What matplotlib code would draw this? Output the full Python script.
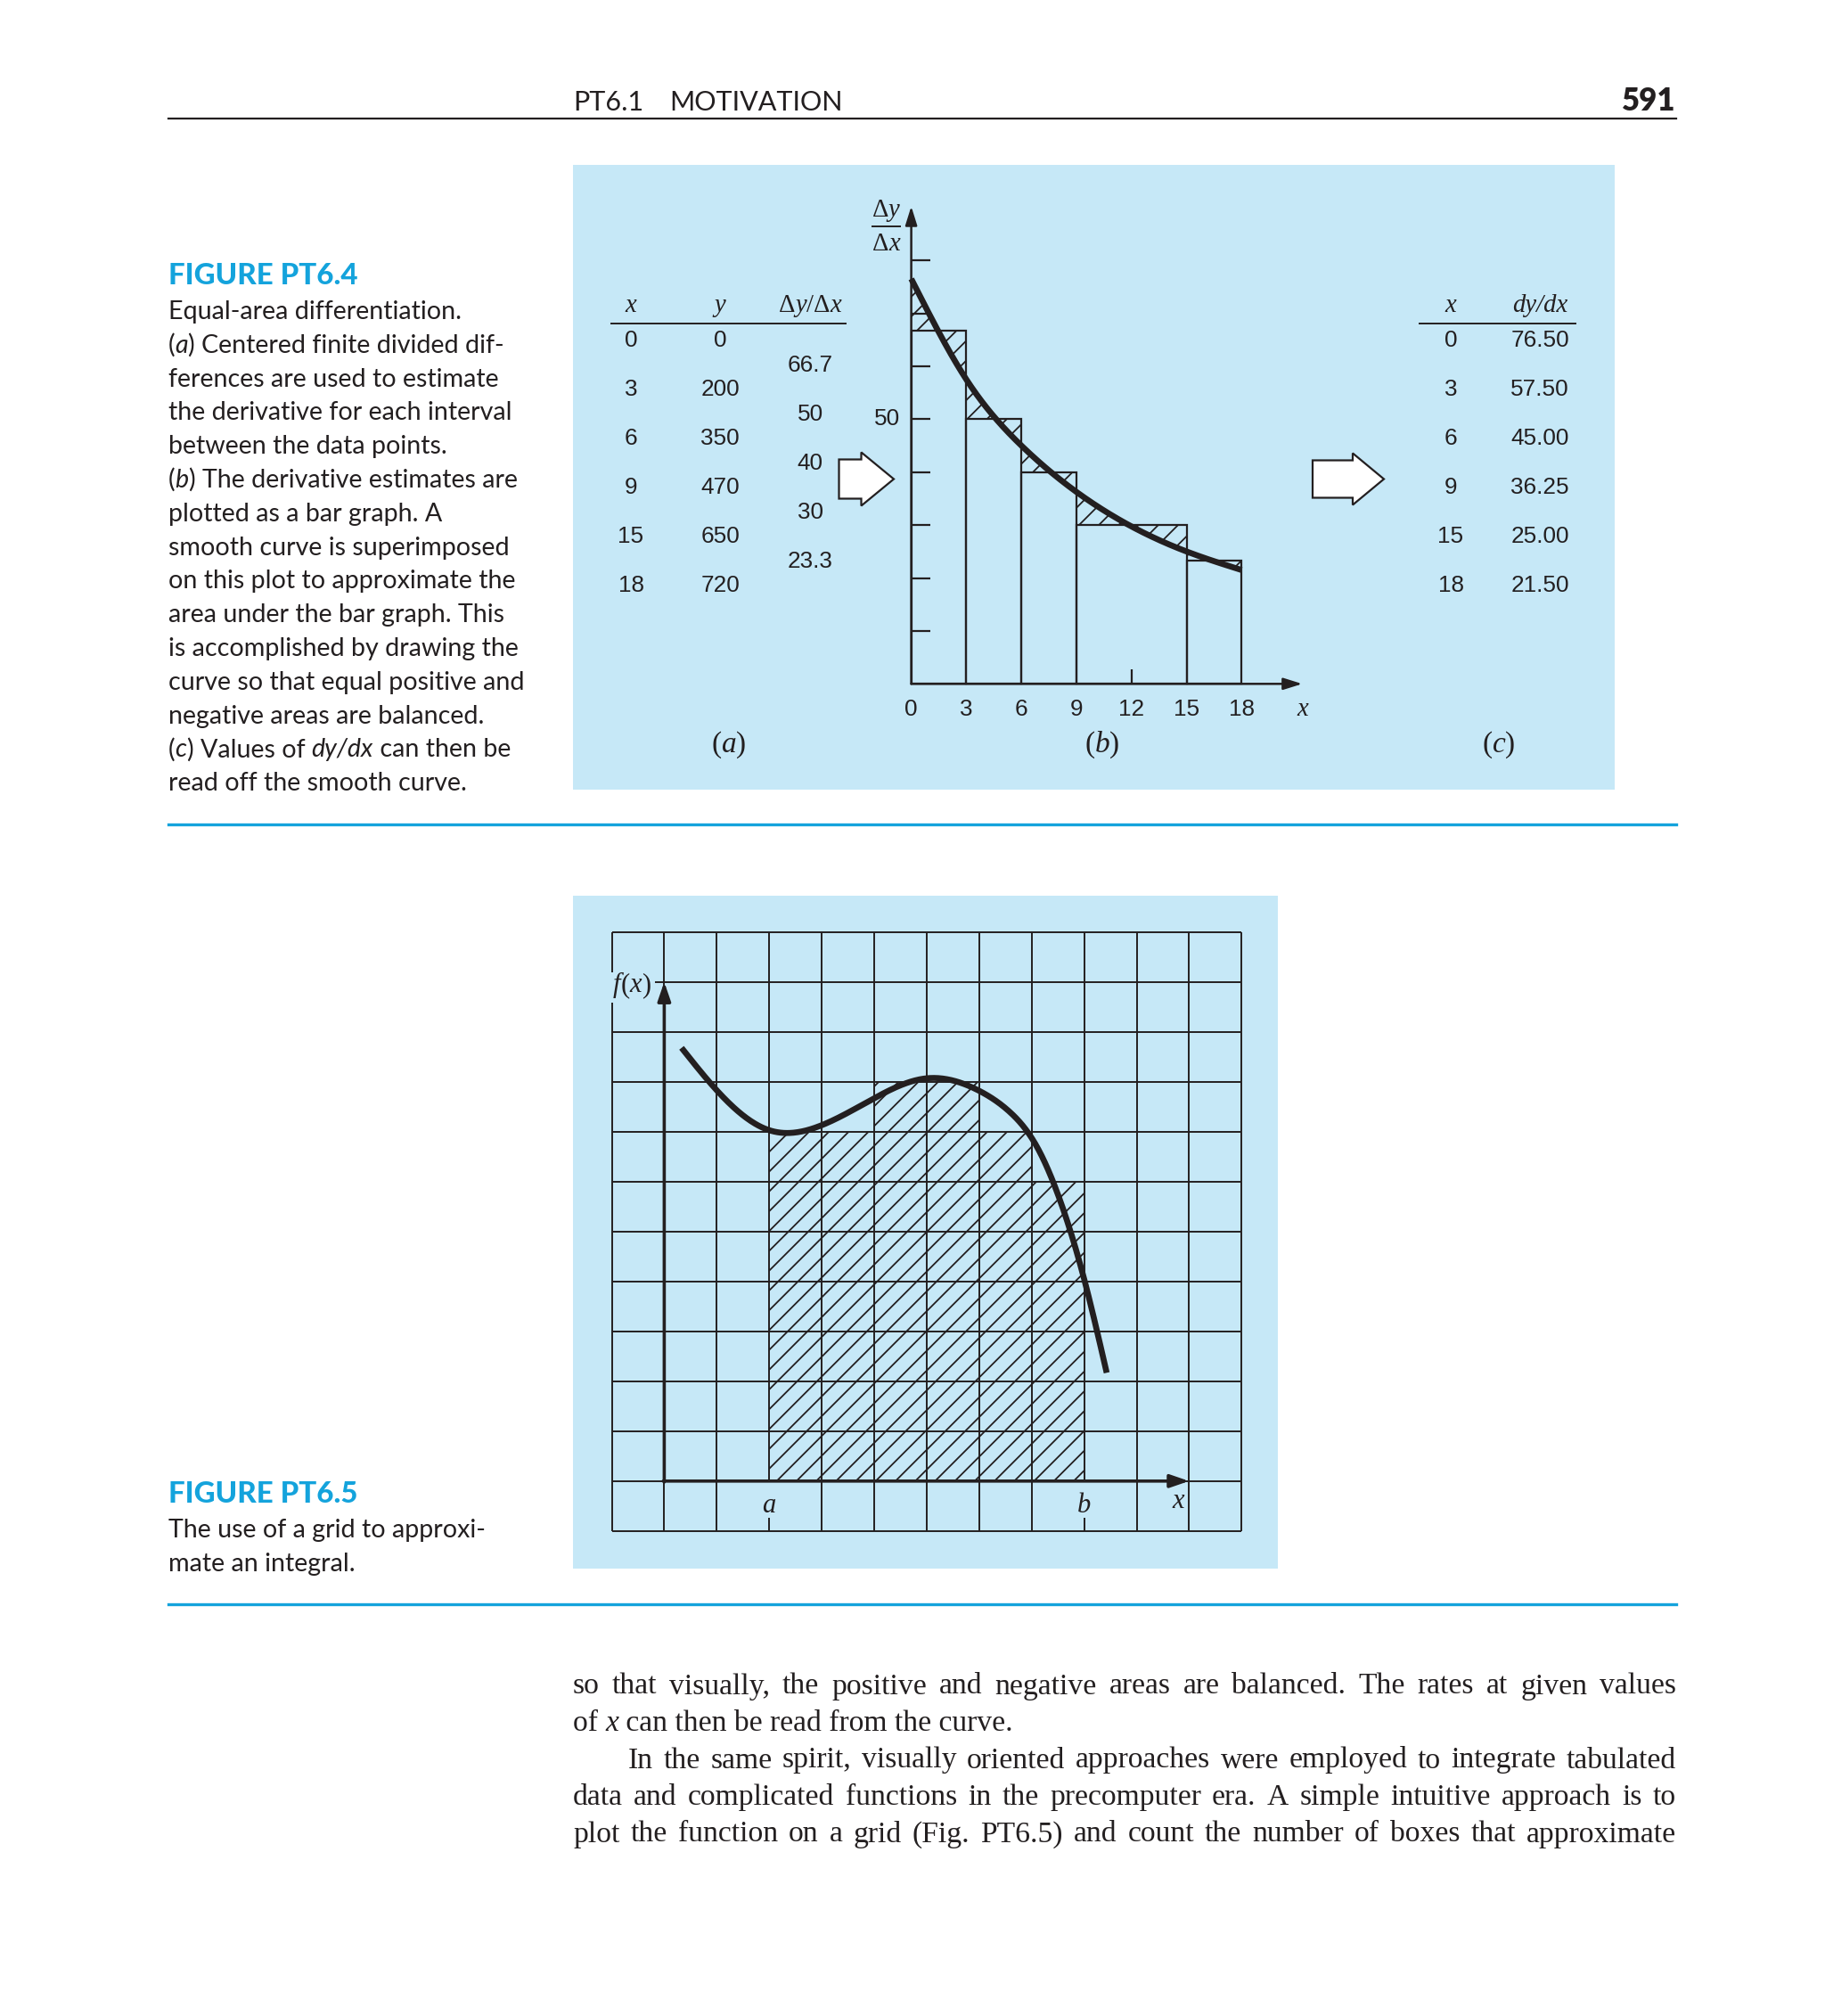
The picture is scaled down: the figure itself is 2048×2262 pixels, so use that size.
import numpy as np
import matplotlib
matplotlib.use('Agg')
import matplotlib.pyplot as plt
from matplotlib.patches import Rectangle, Polygon

W, H, DPI = 2048, 2262, 200

INK = '#231f20'
CYAN = '#14a3dc'
PANEL = '#c6e8f7'
FUT = 'Lato'
SANS = 'Liberation Sans'
SERIF = 'Liberation Serif'

# ---- data: Fig PT6.4 ----
x_tab = [0, 3, 6, 9, 15, 18]
y_tab = [0, 200, 350, 470, 650, 720]
fd_vals = [66.7, 50, 40, 30, 23.3]          # centered finite differences, one per interval
fd_labels = ['66.7', '50', '40', '30', '23.3']
dydx_vals = [76.50, 57.50, 45.00, 36.25, 25.00, 21.50]
dydx_labels = ['76.50', '57.50', '45.00', '36.25', '25.00', '21.50']
yticks_b = [10, 20, 30, 40, 50, 60, 70, 80]
xticks_b = [0, 3, 6, 9, 12, 15, 18]

# ---- data: Fig PT6.5 (grid units) ----
n_grid = 12
box_cols = [3, 4, 5, 6, 7, 8]
box_counts = [7, 7, 8, 8, 7, 6]
fx_x = [1.33, 2.0, 3.0, 4.0, 5.0, 6.0, 7.0, 7.6, 8.1, 8.55, 9.0, 9.43]
fx_y = [9.68, 8.83, 8.03, 8.13, 8.67, 9.07, 8.82, 8.38, 7.7, 6.6, 5.05, 3.17]

caption_a = [
    [('Equal-area differentiation.', {})],
    [('(', {}), ('a', {'style': 'italic'}), (') Centered finite divided dif-', {})],
    [('ferences are used to estimate', {})],
    [('the derivative for each interval', {})],
    [('between the data points.', {})],
    [('(', {}), ('b', {'style': 'italic'}), (') The derivative estimates are', {})],
    [('plotted as a bar graph. A', {})],
    [('smooth curve is superimposed', {})],
    [('on this plot to approximate the', {})],
    [('area under the bar graph. This', {})],
    [('is accomplished by drawing the', {})],
    [('curve so that equal positive and', {})],
    [('negative areas are balanced.', {})],
    [('(', {}), ('c', {'style': 'italic'}), (') Values of ', {}), ('dy/dx', {'style': 'italic'}),
     (' can then be', {})],
    [('read off the smooth curve.', {})],
]
caption_b = ['The use of a grid to approxi-', 'mate an integral.']
body = [
    'so that visually, the positive and negative areas are balanced. The rates at given values',
    None,
    'In the same spirit, visually oriented approaches were employed to integrate tabulated',
    'data and complicated functions in the precomputer era. A simple intuitive approach is to',
    'plot the function on a grid (Fig. PT6.5) and count the number of boxes that approximate',
]


def spline(xk, yk, xs):
    xk = np.asarray(xk, float)
    yk = np.asarray(yk, float)
    n = len(xk)
    h = np.diff(xk)
    A = np.zeros((n, n))
    r = np.zeros(n)
    A[0, 0] = A[-1, -1] = 1
    for i in range(1, n - 1):
        A[i, i - 1], A[i, i], A[i, i + 1] = h[i - 1], 2 * (h[i - 1] + h[i]), h[i]
        r[i] = 3 * ((yk[i + 1] - yk[i]) / h[i] - (yk[i] - yk[i - 1]) / h[i - 1])
    c = np.linalg.solve(A, r)
    b = (yk[1:] - yk[:-1]) / h - h * (2 * c[:-1] + c[1:]) / 3
    d = (c[1:] - c[:-1]) / (3 * h)
    i = np.clip(np.searchsorted(xk, xs) - 1, 0, n - 2)
    t = xs - xk[i]
    return yk[i] + b[i] * t + c[i] * t ** 2 + d[i] * t ** 3


plt.rcParams['hatch.linewidth'] = 0.65
plt.rcParams['hatch.color'] = INK

fig = plt.figure(figsize=(W / DPI, H / DPI), dpi=DPI)


def px_axes(x0, y0, x1, y1, z):
    ax = fig.add_axes([x0 / W, 1 - y1 / H, (x1 - x0) / W, (y1 - y0) / H], zorder=z)
    ax.set_axis_off()
    return ax


bg = px_axes(0, 0, W, H, 0)
bg.set_xlim(0, W)
bg.set_ylim(H, 0)
top = px_axes(0, 0, W, H, 5)
top.set_xlim(0, W)
top.set_ylim(H, 0)

# rules and panels
bg.plot([189, 1881], [133, 133], color=INK, lw=0.8)
bg.plot([189, 1881], [924.5, 924.5], color=CYAN, lw=1.2)
bg.plot([189, 1881], [1800, 1800], color=CYAN, lw=1.2)
bg.add_patch(Rectangle((643.3, 184.6), 1168.2, 701, fc=PANEL, ec='none'))
bg.add_patch(Rectangle((643.3, 1005.3), 790.3, 754.3, fc=PANEL, ec='none'))

fig.canvas.draw()
rend = fig.canvas.get_renderer()


def twidth(s, **kw):
    t1 = top.text(0, 0, s + '|', **kw)
    t2 = top.text(0, 0, '|', **kw)
    w = t1.get_window_extent(rend).width - t2.get_window_extent(rend).width
    t1.remove()
    t2.remove()
    return w


def rich(x, y, parts, ha='left', va='baseline', **base):
    ws = [twidth(s, **{**base, **kw}) for s, kw in parts]
    tot = sum(ws)
    x0 = x - tot / 2 if ha == 'center' else (x - tot if ha == 'right' else x)
    for (s, kw), w in zip(parts, ws):
        top.text(x0, y, s, ha='left', va=va, **{**base, **kw})
        x0 += w
    return tot


def justify(x0, x1, y, words, **base):
    ws = [twidth(w, **base) for w in words]
    gap = (x1 - x0 - sum(ws)) / (len(words) - 1)
    for w, wd in zip(words, ws):
        top.text(x0, y, w, ha='left', va='baseline', **base)
        x0 += wd + gap


# header
hdr = dict(family=FUT, fontsize=11, color=INK)
top.text(643, 124, 'PT6.1', **hdr)
top.text(751, 124, 'MOTIVATION', **hdr)
top.text(1880, 124, '591', ha='right', fontweight='heavy', family=FUT, fontsize=12.5, color=INK)

# captions
cap = dict(family=FUT, fontsize=10.3, color=INK, fontweight='normal')
figlab = dict(family=FUT, fontsize=11.9, fontweight='black', color=CYAN)
top.text(189, 319, 'FIGURE PT6.4', **figlab)
for i, parts in enumerate(caption_a):
    rich(189, 358 + i * 37.8, parts, **cap)
top.text(189, 1686, 'FIGURE PT6.5', **figlab)
for i, s in enumerate(caption_b):
    top.text(189, 1725 + i * 37.6, s, **cap)

# body text
bt = dict(family=SERIF, fontsize=12.1, color=INK)
body_y = [1900.5 + 41.5 * i for i in range(5)]
for i, line in enumerate(body):
    if line is None:
        rich(643, body_y[i], [('of ', {}), ('x', {'style': 'italic'}),
                              (' can then be read from the curve.', {})], **bt)
    else:
        justify(705 if i == 2 else 643, 1881, body_y[i], line.split(), **bt)

# ---- table (a) ----
num = dict(family=SANS, fontsize=9.4, color=INK, ha='center', va='center')
it = {'style': 'italic'}
hd = dict(family=SERIF, fontsize=10.3, color=INK)
row_y = [382 + 55.1 * i for i in range(6)]
rich(708, 350, [('x', it)], ha='center', **hd)
rich(808, 350, [('y', it)], ha='center', **hd)
rich(909, 350, [('Δ', {}), ('y', it), ('/Δ', {}), ('x', it)], ha='center', **hd)
top.plot([686, 949], [362.5, 362.5], color=INK, lw=0.7)
for yv, xv, yy in zip(row_y, x_tab, y_tab):
    top.text(708, yv, str(xv), **num)
    top.text(808, yv, str(yy), **num)
for k, lab in enumerate(fd_labels):
    top.text(909, (row_y[k] + row_y[k + 1]) / 2, lab, **num)

# ---- table (c) ----
rich(1628, 350, [('x', it)], ha='center', **hd)
rich(1728, 350, [('dy/dx', it)], ha='center', **hd)
top.plot([1593, 1768], [362.5, 362.5], color=INK, lw=0.7)
for yv, xv, lab in zip(row_y, x_tab, dydx_labels):
    top.text(1628, yv, str(xv), **num)
    top.text(1728, yv, lab, **num)

# panel letters
pl = dict(family=SERIF, fontsize=12, color=INK)
for xc, letter in [(818, 'a'), (1237, 'b'), (1682, 'c')]:
    rich(xc, 844, [('(', {}), (letter, it), (')', {})], ha='center', **pl)


# block arrows
def block_arrow(x0, xb, tip, cy, bh, hh):
    pts = [(x0, cy - bh), (xb, cy - bh), (xb, cy - hh), (tip, cy),
           (xb, cy + hh), (xb, cy + bh), (x0, cy + bh)]
    top.add_patch(Polygon(pts, closed=True, fc='white', ec=INK, lw=0.8))


block_arrow(941.5, 966.5, 1003, 537.5, 22, 30)
block_arrow(1473, 1518, 1553, 537.5, 21, 29)

# ---- plot (b) ----
bx0, by0, bsx, bsy = 1022.6, 767.3, 20.6, 5.94
axb = px_axes(bx0 - 3 * bsx, by0 - 93 * bsy, bx0 + 22 * bsx, by0 + 14 * bsy, 2)
axb.set_xlim(-3, 22)
axb.set_ylim(-14, 93)
lefts = x_tab[:-1]
widths = np.diff(x_tab)
for a, w, h in zip(lefts, widths, fd_vals):
    xs = np.linspace(a, a + w, 200)
    axb.fill_between(xs, spline(x_tab, dydx_vals, xs), h, facecolor='none',
                     edgecolor=INK, hatch='///', linewidth=0, zorder=1)
axb.bar(lefts, fd_vals, width=widths, align='edge', fill=False, edgecolor=INK, lw=0.8, zorder=2)
xs = np.linspace(0, 18, 400)
axb.plot(xs, spline(x_tab, dydx_vals, xs), color=INK, lw=2.4, solid_capstyle='butt', zorder=3)
arr = dict(arrowstyle='-|>,head_length=0.32,head_width=0.1', color=INK, lw=0.9,
           shrinkA=0, shrinkB=0, mutation_scale=20)
axb.annotate('', xy=(0, 90.2), xytext=(0, 0), arrowprops=arr, zorder=4)
axb.annotate('', xy=(21.3, 0), xytext=(0, 0), arrowprops=arr, zorder=4)
axb.hlines(yticks_b, 0, 1.02, color=INK, lw=0.8, zorder=2)
axb.vlines(12, 0, 2.7, color=INK, lw=0.8)
for xv in xticks_b:
    axb.text(xv, -4.8, str(xv), family=SANS, fontsize=9.4, color=INK, ha='center', va='center')
axb.text(21.3, -4.8, 'x', family=SERIF, style='italic', fontsize=10.3, color=INK,
         ha='center', va='center')
axb.text(-0.6, 50, '50', family=SANS, fontsize=9.4, color=INK, ha='right', va='center')
rich(994, 243, [('Δ', {}), ('y', it)], ha='center', **hd)
top.plot([979, 1010], [254, 254], color=INK, lw=0.7)
rich(994, 281, [('Δ', {}), ('x', it)], ha='center', **hd)

# ---- grid figure PT6.5 ----
gx0, gy0, gw, gh = 686.5, 1717.8, 58.9, 56.0
axg = px_axes(gx0, gy0 - n_grid * gh, gx0 + n_grid * gw, gy0, 2)
axg.set_xlim(0, n_grid)
axg.set_ylim(0, n_grid)
axg.bar(box_cols, box_counts, bottom=1, width=1, align='edge', facecolor='none',
        edgecolor=INK, hatch='///', linewidth=0, zorder=1)
for c in range(n_grid + 1):
    if c in (box_cols[0], box_cols[-1] + 1):
        axg.vlines(c, 0, 0.26, color=INK, lw=0.7, clip_on=False)
        axg.vlines(c, 1, n_grid, color=INK, lw=0.7, clip_on=False)
    else:
        axg.vlines(c, 0, n_grid, color=INK, lw=0.7, clip_on=False)
axg.hlines(range(n_grid + 1), 0, n_grid, color=INK, lw=0.7, clip_on=False)
xs = np.linspace(fx_x[0], fx_x[-1], 400)
axg.plot(xs, spline(fx_x, fx_y, xs), color=INK, lw=2.4, solid_capstyle='butt', zorder=3)
arr2 = dict(arrowstyle='-|>,head_length=0.32,head_width=0.11', color=INK, lw=1.3,
            shrinkA=0, shrinkB=0, mutation_scale=20)
axg.annotate('', xy=(1, 11), xytext=(1, 0.98), arrowprops=arr2, zorder=4)
axg.annotate('', xy=(11, 1), xytext=(0.98, 1), arrowprops=arr2, zorder=4)
gl = dict(family=SERIF, style='italic', fontsize=11, color=INK, ha='center')
for c, lab in [(box_cols[0], 'a'), (box_cols[-1] + 1, 'b')]:
    top.text(gx0 + c * gw, 1697, lab, **gl)
top.text(1322, 1692, 'x', **gl)
top.add_patch(Rectangle((683, 1091), 52, 34, fc=PANEL, ec='none'))
rich(709, 1113, [('f', it), ('(', {}), ('x', it), (')', {})], ha='center',
     family=SERIF, fontsize=11, color=INK)

fig.savefig('out.png', dpi=DPI)
